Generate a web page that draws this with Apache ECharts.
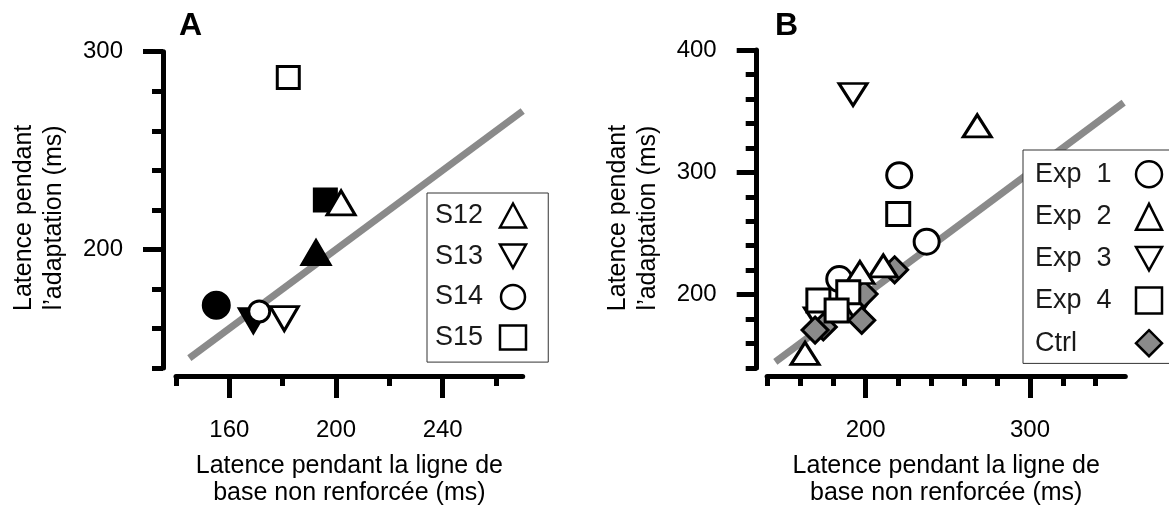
<!DOCTYPE html>
<html>
<head>
<meta charset="utf-8">
<script src="https://cdn.jsdelivr.net/npm/echarts@6/dist/echarts.min.js"></script>
<style>
html,body{margin:0;padding:0;background:#fff;}
#chart{width:1169px;height:512px;}
</style>
</head>
<body>
<div id="chart"></div>
<script>
// ---------- Panel A data ----------
const identityA = [145, 270];
const s12 = [[201.9, 223.5]];
const s13 = [[180.6, 165.0]];
const s14 = [[171.2, 168.6]];
const s15 = [[182.1, 287.0]];
const s12Filled = [[192.5, 198.4]];
const s13Filled = [[169.0, 164.0]];
const s14Filled = [[155.1, 171.7]];
const s15Filled = [[196.0, 225.0]];
// ---------- Panel B data ----------
const identityB = [145, 357];
const exp1 = [[220.4, 297.6], [237.1, 243.3], [183.9, 212.7]];
const exp2 = [[267.9, 338.0], [210.7, 223.5], [196.5, 218.1], [163.1, 152.0]];
const exp3 = [[192.3, 363.6], [194.1, 187.1], [171.2, 180.3]];
const exp4 = [[219.8, 266.0], [189.4, 201.9], [171.2, 195.2], [182.3, 187.1]];
const ctrl = [[217.6, 220.3], [199.0, 200.5], [197.6, 179.0], [174.2, 173.6], [169.2, 171.0]];
// ---------- Ticks ----------
const xMajorA = [160, 200, 240];
const xMinorA = [140, 160, 180, 200, 220, 240, 260];
const yMajorA = [200, 300];
const yMinorA = [140, 160, 180, 200, 220, 240, 260, 280, 300];
const xMajorB = [200, 300];
const xMinorB = [140, 160, 180, 200, 220, 240, 260, 280, 300, 320, 340];
const yMajorB = [200, 300, 400];
const yMinorB = [140, 160, 180, 200, 220, 240, 260, 280, 300, 320, 340, 360, 380, 400];
// ---------- Texts ----------
const xTitle = 'Latence pendant la ligne de\nbase non renforcée (ms)';
const yTitle = 'Latence pendant\nl\u2019adaptation (ms)';
const legendA = ['S12', 'S13', 'S14', 'S15'];
const legendB = ['Exp  1', 'Exp  2', 'Exp  3', 'Exp  4', 'Ctrl'];

const FONT = 'Liberation Sans, Arial, sans-serif';
const BLACK = '#000';
const INV_TRI = 'path://M0,0 L20,0 L10,18 Z';

function majorX(grid, min, max, vals) {
  return {
    type: 'value', gridIndex: grid, min: min, max: max, position: 'bottom', offset: 8,
    axisLine: {show: true, onZero: false, lineStyle: {color: BLACK, width: 5}},
    axisTick: {show: true, customValues: vals, length: 22, lineStyle: {color: BLACK, width: 5}},
    axisLabel: {show: true, customValues: vals, margin: 42, fontSize: 24, color: BLACK, fontFamily: FONT},
    splitLine: {show: false},
    name: xTitle, nameLocation: 'middle', nameGap: 77,
    nameTextStyle: {fontSize: 25, lineHeight: 27, color: BLACK, fontFamily: FONT}
  };
}
function minorX(grid, min, max, vals) {
  return {
    type: 'value', gridIndex: grid, min: min, max: max, position: 'bottom', offset: 8,
    axisLine: {show: false, onZero: false},
    axisTick: {show: true, customValues: vals, length: 10, lineStyle: {color: BLACK, width: 5}},
    axisLabel: {show: false},
    splitLine: {show: false}
  };
}
function majorY(grid, min, max, vals, off, gap, shift) {
  return {
    type: 'value', gridIndex: grid, min: min, max: max, position: 'left', offset: off,
    axisLine: {show: true, onZero: false, lineStyle: {color: BLACK, width: 5}},
    axisTick: {show: true, customValues: vals, length: 20, lineStyle: {color: BLACK, width: 5}},
    axisLabel: {show: true, customValues: vals, margin: 40, fontSize: 24, color: BLACK, fontFamily: FONT},
    splitLine: {show: false},
    name: yTitle, nameLocation: 'middle', nameGap: gap,
    nameTextStyle: {fontSize: 25, lineHeight: 30, color: BLACK, fontFamily: FONT, padding: [0, shift, 0, 0]}
  };
}
function minorY(grid, min, max, vals, off) {
  return {
    type: 'value', gridIndex: grid, min: min, max: max, position: 'left', offset: off,
    axisLine: {show: false, onZero: false},
    axisTick: {show: true, customValues: vals, length: 11, lineStyle: {color: BLACK, width: 5}},
    axisLabel: {show: false},
    splitLine: {show: false}
  };
}
function pts(name, data, xi, yi, symbol, size, fill, rotate) {
  return {
    type: 'scatter', name: name, data: data, xAxisIndex: xi, yAxisIndex: yi,
    symbol: symbol, symbolSize: size, symbolRotate: rotate || 0,
    itemStyle: {color: fill, borderColor: BLACK, borderWidth: 3, opacity: 1},
    emphasis: {disabled: true}, silent: true, z: 3
  };
}
function identity(vals, xi, yi) {
  return {
    type: 'line', data: vals.map(v => [v, v]), xAxisIndex: xi, yAxisIndex: yi,
    showSymbol: false, symbol: 'none', silent: true, z: 2,
    lineStyle: {color: '#8a8a8a', width: 7}
  };
}

const chart = echarts.init(document.getElementById('chart'), null, {renderer: 'canvas'});
chart.setOption({
  animation: false,
  backgroundColor: '#fff',
  textStyle: {fontFamily: FONT},
  grid: [
    {left: 176, top: 51.7, width: 346.7, height: 320},
    {left: 767.1, top: 50, width: 358.2, height: 321.6}
  ],
  xAxis: [
    majorX(0, 140, 270, xMajorA), minorX(0, 140, 270, xMinorA),
    majorX(1, 140, 358, xMajorB), minorX(1, 140, 358, xMinorB)
  ],
  yAxis: [
    majorY(0, 140, 300, yMajorA, 13, 94, 16), minorY(0, 140, 300, yMinorA, 13),
    majorY(1, 140, 400, yMajorB, 10.4, 94, 18), minorY(1, 140, 400, yMinorB, 10.4)
  ],
  legend: [
    {
      orient: 'vertical', left: 427, top: 193, align: 'right',
      padding: [9, 21, 11, 8], itemWidth: 26, itemHeight: 24, itemGap: 13.7,
      borderColor: '#333', borderWidth: 1, backgroundColor: '#fff', selectedMode: false,
      symbolRotate: 0,
      data: [
        {name: legendA[0], icon: 'triangle'},
        {name: legendA[1], icon: INV_TRI},
        {name: legendA[2], icon: 'circle'},
        {name: legendA[3], icon: 'rect'}
      ],
      formatter: n => '{t|' + n + '}',
      textStyle: {fontSize: 27, color: '#1a1a1a', rich: {t: {width: 60, align: 'left', fontSize: 27, lineHeight: 28, color: '#1a1a1a', fontFamily: FONT}}},
      itemStyle: {borderWidth: 2.5, borderColor: BLACK}
    },
    {
      orient: 'vertical', left: 1023, top: 150, align: 'right',
      padding: [10, 9, 6, 12], itemWidth: 26, itemHeight: 26, itemGap: 14.1,
      borderColor: '#333', borderWidth: 1, backgroundColor: '#fff', selectedMode: false,
      symbolRotate: 0,
      data: [
        {name: legendB[0], icon: 'circle'},
        {name: legendB[1], icon: 'triangle'},
        {name: legendB[2], icon: INV_TRI},
        {name: legendB[3], icon: 'rect'},
        {name: legendB[4], icon: 'diamond'}
      ],
      formatter: n => '{t|' + n + '}',
      textStyle: {fontSize: 27, color: '#1a1a1a', rich: {t: {width: 96, align: 'left', fontSize: 27, lineHeight: 28, color: '#1a1a1a', fontFamily: FONT}}},
      itemStyle: {borderWidth: 2.5, borderColor: BLACK}
    }
  ],
  graphic: [
    {type: 'text', left: 179, top: 10, style: {text: 'A', font: 'bold 32px ' + FONT, fill: BLACK}},
    {type: 'text', left: 775, top: 10, style: {text: 'B', font: 'bold 32px ' + FONT, fill: BLACK}}
  ],
  series: [
    identity(identityA, 0, 0),
    pts('S12 plein', s12Filled, 0, 0, 'triangle', [28, 24], BLACK),
    pts('S13 plein', s13Filled, 0, 0, 'triangle', [28, 24], BLACK, 180),
    pts('S14 plein', s14Filled, 0, 0, 'circle', 26, BLACK),
    pts('S15 plein', s15Filled, 0, 0, 'rect', 22, BLACK),
    pts(legendA[2], s14, 0, 0, 'circle', 21, '#fff'),
    pts(legendA[1], s13, 0, 0, 'triangle', [28, 24], '#fff', 180),
    pts(legendA[0], s12, 0, 0, 'triangle', [28, 24], '#fff'),
    pts(legendA[3], s15, 0, 0, 'rect', 22, '#fff'),
    identity(identityB, 2, 2),
    pts(legendB[0], exp1, 2, 2, 'circle', 25, '#fff'),
    pts(legendB[2], exp3, 2, 2, 'triangle', [28, 22], '#fff', 180),
    pts(legendB[4], ctrl, 2, 2, 'diamond', [26, 26], '#8a8a8a'),
    pts(legendB[1], exp2, 2, 2, 'triangle', [28, 22], '#fff'),
    pts(legendB[3], exp4, 2, 2, 'rect', 23, '#fff')
  ]
});
</script>
</body>
</html>
